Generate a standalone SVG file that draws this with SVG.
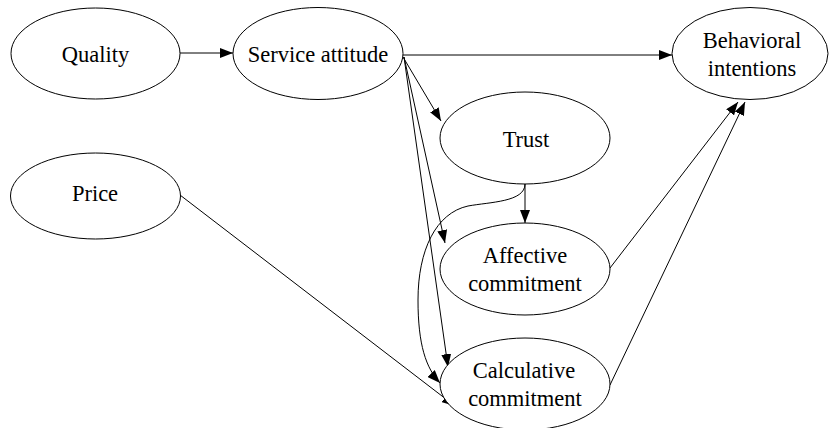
<svg xmlns="http://www.w3.org/2000/svg" width="829" height="428" viewBox="0 0 829 428">
<style>
.n{fill:#fff;stroke:#000;stroke-width:1}
text{font-family:'Liberation Serif','Times New Roman','DejaVu Serif',serif;font-size:22.5px;fill:#000;text-anchor:middle}
.c{fill:none;stroke:#000;stroke-width:1;marker-end:url(#ah)}
</style>
<defs>
<marker id="ah" markerUnits="userSpaceOnUse" markerWidth="14" markerHeight="10" refX="13" refY="5" orient="auto">
<path d="M0,0 L13,5 L0,10 Z" fill="#000"/>
</marker>
</defs>
<rect width="829" height="428" fill="#fff"/>
<g id="connectors">
<path class="c" d="M180,53 L233,53"/>
<path class="c" d="M403,55 L672,55"/>
<path class="c" d="M403,57 L441,121"/>
<path class="c" d="M404,57 L445,243"/>
<path class="c" d="M404,57 L448,367"/>
<path class="c" d="M525,184 L525,223"/>
<path class="c" d="M525,184 C525,202 490,202 468,206 C436,213 418,250 418,300 C418,345 426,368 440,383"/>
<path class="c" d="M610,268 L738,102"/>
<path class="c" d="M610,385 L745,102"/>
<path class="c" d="M180,195 L455,406"/>
</g>
<g id="quality"><ellipse class="n" cx="95.5" cy="53.5" rx="84.5" ry="45.5"/><text font-family="Liberation Serif, serif" x="95.5" y="62">Quality</text></g>
<g id="service"><ellipse class="n" cx="318" cy="53.5" rx="85" ry="46"/><text font-family="Liberation Serif, serif" x="318" y="62">Service attitude</text></g>
<g id="behavioral"><ellipse class="n" cx="750" cy="53.5" rx="78" ry="46"/><text font-family="Liberation Serif, serif" x="752" y="48">Behavioral</text><text font-family="Liberation Serif, serif" x="752" y="76">intentions</text></g>
<g id="price"><ellipse class="n" cx="95.5" cy="196" rx="85" ry="43"/><text font-family="Liberation Serif, serif" x="95" y="201">Price</text></g>
<g id="trust"><ellipse class="n" cx="525" cy="138" rx="85" ry="46"/><text font-family="Liberation Serif, serif" x="526" y="147">Trust</text></g>
<g id="affective"><ellipse class="n" cx="525" cy="269" rx="85" ry="46"/><text font-family="Liberation Serif, serif" x="525" y="263">Affective</text><text font-family="Liberation Serif, serif" x="525" y="291">commitment</text></g>
<g id="calculative"><ellipse class="n" cx="525" cy="384" rx="85" ry="46"/><text font-family="Liberation Serif, serif" x="524" y="378">Calculative</text><text font-family="Liberation Serif, serif" x="525" y="406">commitment</text></g>
</svg>
